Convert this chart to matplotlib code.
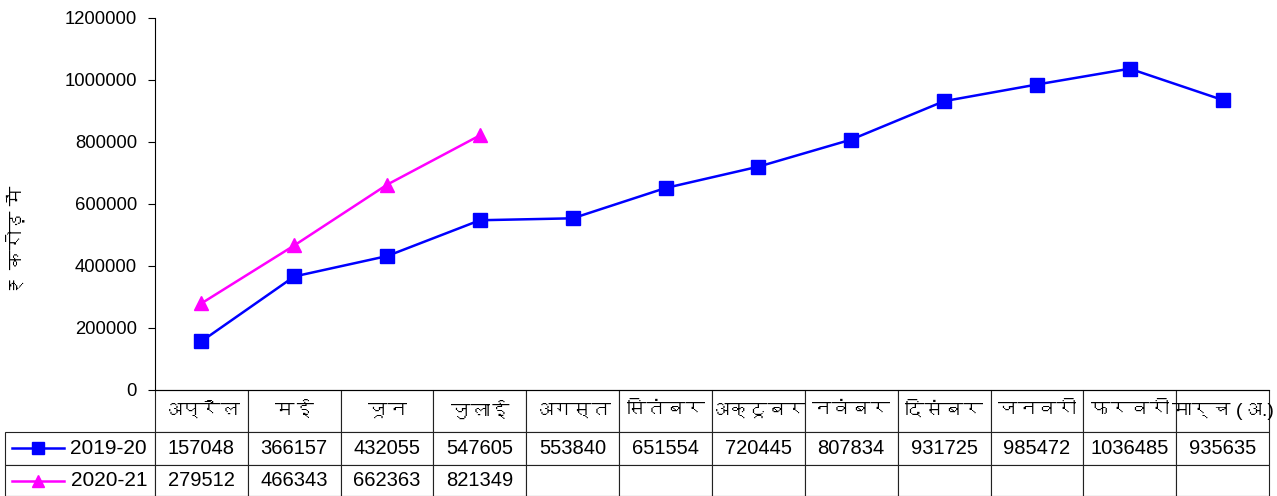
import matplotlib
matplotlib.use("Agg")
import matplotlib.pyplot as plt
from matplotlib import font_manager, ft2font
from matplotlib.lines import Line2D

# Data
months = ["अप्रैल", "मई", "जून", "जुलाई", "अगस्त", "सितंबर", "अक्टूबर",
          "नवंबर", "दिसंबर", "जनवरी", "फरवरी", "मार्च (अ.)"]
series_names = ["2019-20", "2020-21"]
values_2019 = [157048, 366157, 432055, 547605, 553840, 651554, 720445,
               807834, 931725, 985472, 1036485, 935635]
values_2020 = [279512, 466343, 662363, 821349]
y_ticks = [0, 200000, 400000, 600000, 800000, 1000000, 1200000]
y_label = "₹ करोड़ में"


def find_devanagari_font():
    """Look for any installed font that has Devanagari glyphs."""
    for f in font_manager.fontManager.ttflist:
        try:
            if 0x0905 in ft2font.FT2Font(f.fname).get_charmap():
                return f.name
        except Exception:
            pass
    return None


families = ["Liberation Sans"]
deva = find_devanagari_font()
if deva:
    families.append(deva)
families.append("DejaVu Sans")
plt.rcParams['font.family'] = families

W, H = 1277, 496
fig = plt.figure(figsize=(W / 100, H / 100), dpi=100)
ax_left, ax_right, ax_top, ax_bottom = 155, 1269, 18, 390
ax = fig.add_axes([ax_left / W, (H - ax_bottom) / H,
                   (ax_right - ax_left) / W, (ax_bottom - ax_top) / H])

x = list(range(len(months)))
ax.plot(x, values_2019, color='#0000FF', marker='s', markersize=10.5,
        linewidth=1.8, label=series_names[0])
ax.plot(x[:len(values_2020)], values_2020, color='#FF00FF', marker='^',
        markersize=10.5, linewidth=1.8, label=series_names[1])

ax.set_xlim(-0.5, len(months) - 0.5)
ax.set_ylim(0, 1200000)
ax.set_yticks(y_ticks)
ax.set_yticklabels([str(v) for v in y_ticks], fontsize=13.3)
ax.tick_params(axis='y', direction='out', length=5, width=0.8, pad=8)
ax.set_xticks([])
for s in ['top', 'right']:
    ax.spines[s].set_visible(False)
ax.spines['left'].set_linewidth(0.8)
ax.spines['bottom'].set_linewidth(0.8)
ax_w = ax_right - ax_left
ax_h = ax_bottom - ax_top
ax.set_ylabel(y_label, fontsize=14)
ax.yaxis.set_label_coords((27 - ax_left) / ax_w, (ax_bottom - 240) / ax_h)

# Data table below the plot; first column holds the legend keys
label_w = 150
table_h = H - ax_bottom
row_heights = [42, 33, 31]
header = [""] + months
cell_text = [[""] + [str(v) for v in values_2019],
             [""] + [str(v) for v in values_2020] + [""] * (len(months) - len(values_2020))]
tbl = ax.table(cellText=cell_text, colLabels=header, cellLoc='center',
               bbox=[-label_w / ax_w, -table_h / ax_h,
                     1 + label_w / ax_w, table_h / ax_h])
tbl.auto_set_font_size(False)
tbl.set_fontsize(14.5)
col_w = 1 / len(months)
for (r, c), cell in tbl.get_celld().items():
    cell.set_linewidth(0.8)
    cell.set_edgecolor('#222222')
    cell.set_width(label_w / ax_w if c == 0 else col_w)
    cell.set_height(row_heights[r])
    if r == 0:
        cell.get_text().set_fontsize(14)
        if c == 0:
            cell.visible_edges = ''
            cell.set_facecolor('none')

# legend keys and series names in the first column
row_centers = [448, 481]
styles = [('#0000FF', 's'), ('#FF00FF', '^')]
for yc, (col, mk), name in zip(row_centers, styles, series_names):
    ya = (ax_bottom - yc) / ax_h
    ax.add_line(Line2D([(12 - ax_left) / ax_w, (64 - ax_left) / ax_w], [ya, ya],
                       transform=ax.transAxes, color=col, linewidth=1.8,
                       clip_on=False))
    ax.add_line(Line2D([(38 - ax_left) / ax_w], [ya], transform=ax.transAxes,
                       color=col, marker=mk, markersize=8.5, clip_on=False))
    ax.text((147 - ax_left) / ax_w, ya, name, transform=ax.transAxes,
            ha='right', va='center', fontsize=15)

fig.savefig("out.png", dpi=100)
